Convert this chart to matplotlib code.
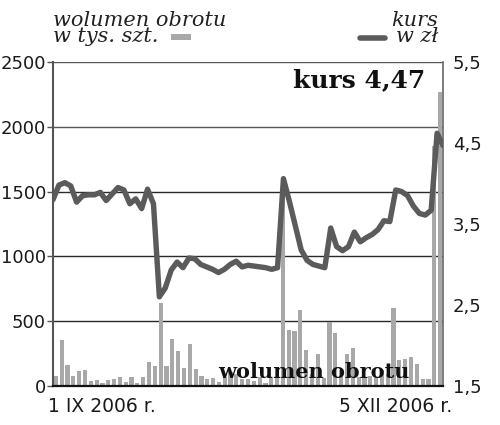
import numpy as np
import matplotlib
matplotlib.use("Agg")
import matplotlib.pyplot as plt
from matplotlib.lines import Line2D
from matplotlib.patches import Rectangle

# ---- data ----
volume = [77, 351, 163, 77, 114, 124, 41, 46, 23, 47, 57, 67, 31, 67, 23, 67,
          186, 150, 640, 155, 364, 266, 140, 323, 130, 77, 52, 62, 31, 70, 110,
          90, 52, 57, 41, 72, 26, 62, 62, 1520, 432, 426, 584, 277, 90, 247, 60,
          490, 411, 120, 246, 291, 70, 60, 80, 70, 120, 90, 600, 202, 206, 221,
          170, 55, 55, 1850, 2270]
price = [3.80, 3.98, 4.01, 3.97, 3.77, 3.85, 3.86, 3.86, 3.89, 3.79, 3.87, 3.95,
         3.92, 3.75, 3.81, 3.69, 3.93, 3.75, 2.60, 2.71, 2.93, 3.03, 2.96, 3.08,
         3.07, 3.00, 2.97, 2.94, 2.90, 2.94, 3.00, 3.04, 2.97, 2.99, 2.98, 2.97,
         2.96, 2.94, 2.96, 4.06, 3.78, 3.48, 3.18, 3.05, 3.00, 2.98, 2.96, 3.45,
         3.22, 3.17, 3.22, 3.40, 3.28, 3.33, 3.37, 3.43, 3.54, 3.53, 3.92, 3.90,
         3.85, 3.72, 3.63, 3.61, 3.67, 4.62, 4.47]
left_ticks = [0, 500, 1000, 1500, 2000, 2500]
right_ticks = [1.5, 2.5, 3.5, 4.5, 5.5]
right_labels = ["1,5", "2,5", "3,5", "4,5", "5,5"]
date_start = "1 IX 2006 r."
date_end = "5 XII 2006 r."
last_price_label = "kurs 4,47"

BAR = "#a8a8a8"
LINE = "#5b5b5b"
TXT = "#1a1a1a"

fig = plt.figure(figsize=(5, 4.25), dpi=100)
ax = fig.add_axes([0.106, 0.092, 0.780, 0.762])
n = len(volume)
xb = np.arange(n)
ax.bar(xb, volume, width=0.72, color=BAR, zorder=2)
ax.set_xlim(-0.5, n - 0.5)
ax.set_ylim(0, 2500)
ax.set_yticks(left_ticks)
ax.set_yticklabels([str(t) for t in left_ticks])
for t in left_ticks[1:]:
    ax.axhline(t, color="#2a2a2a" if t < 2000 else "#555555", lw=1.0, zorder=1)
ax.set_xticks([])
ax.tick_params(axis="y", left=False, right=True, length=4, width=1,
               color="#555555", pad=1, labelsize=13, labelcolor=TXT)
ax.spines["top"].set_visible(False)
ax.spines["left"].set_color("#555555")
ax.spines["left"].set_linewidth(1.5)
ax.spines["bottom"].set_color("#111111")
ax.spines["bottom"].set_linewidth(1.6)
ax.spines["right"].set_color("#666666")
ax.spines["right"].set_linewidth(1.2)

ax2 = ax.twinx()
xl = np.linspace(-0.5, n - 0.5, n)
ax2.plot(xl, price, color=LINE, lw=3.9, solid_joinstyle="round",
         solid_capstyle="round", zorder=3)
ax2.set_ylim(1.5, 5.5)
ax2.set_yticks(right_ticks)
ax2.set_yticklabels(right_labels)
ax2.tick_params(axis="y", length=0, pad=7, labelsize=13, labelcolor=TXT)
for s in ["top", "left", "bottom", "right"]:
    ax2.spines[s].set_visible(False)

# overlay texts
ax.text(0.669, 0.024, "wolumen obrotu", transform=ax.transAxes, fontsize=15,
        family="DejaVu Serif", fontweight="bold", color="#111111",
        ha="center", va="baseline", zorder=5)
ax.text(0.955, 0.944, last_price_label, transform=ax.transAxes, fontsize=18,
        family="DejaVu Serif", fontweight="bold", color="#111111",
        ha="right", va="center", zorder=5,
        bbox=dict(facecolor="white", edgecolor="none", pad=1))

# date labels
fig.text(0.096, 0.022, date_start, fontsize=13.5, color=TXT, ha="left", va="bottom")
fig.text(0.904, 0.022, date_end, fontsize=13.5, color=TXT, ha="right", va="bottom")

# legend header
fig.text(0.106, 0.900, "wolumen obrotu\nw tys. szt.", fontsize=15,
         family="DejaVu Serif", style="italic", color="#222222",
         ha="left", va="baseline", linespacing=0.82)
fig.patches.append(Rectangle((0.342, 0.905), 0.040, 0.014, transform=fig.transFigure,
                             facecolor=BAR, edgecolor="none"))
fig.text(0.876, 0.900, "kurs\nw zł", fontsize=15, family="DejaVu Serif",
         style="italic", color="#222222", ha="right", va="baseline",
         multialignment="right", linespacing=0.82)
fig.lines.append(Line2D([0.720, 0.770], [0.910, 0.910], transform=fig.transFigure,
                        color=LINE, lw=4, solid_capstyle="round"))

fig.savefig("out.png", dpi=100)
